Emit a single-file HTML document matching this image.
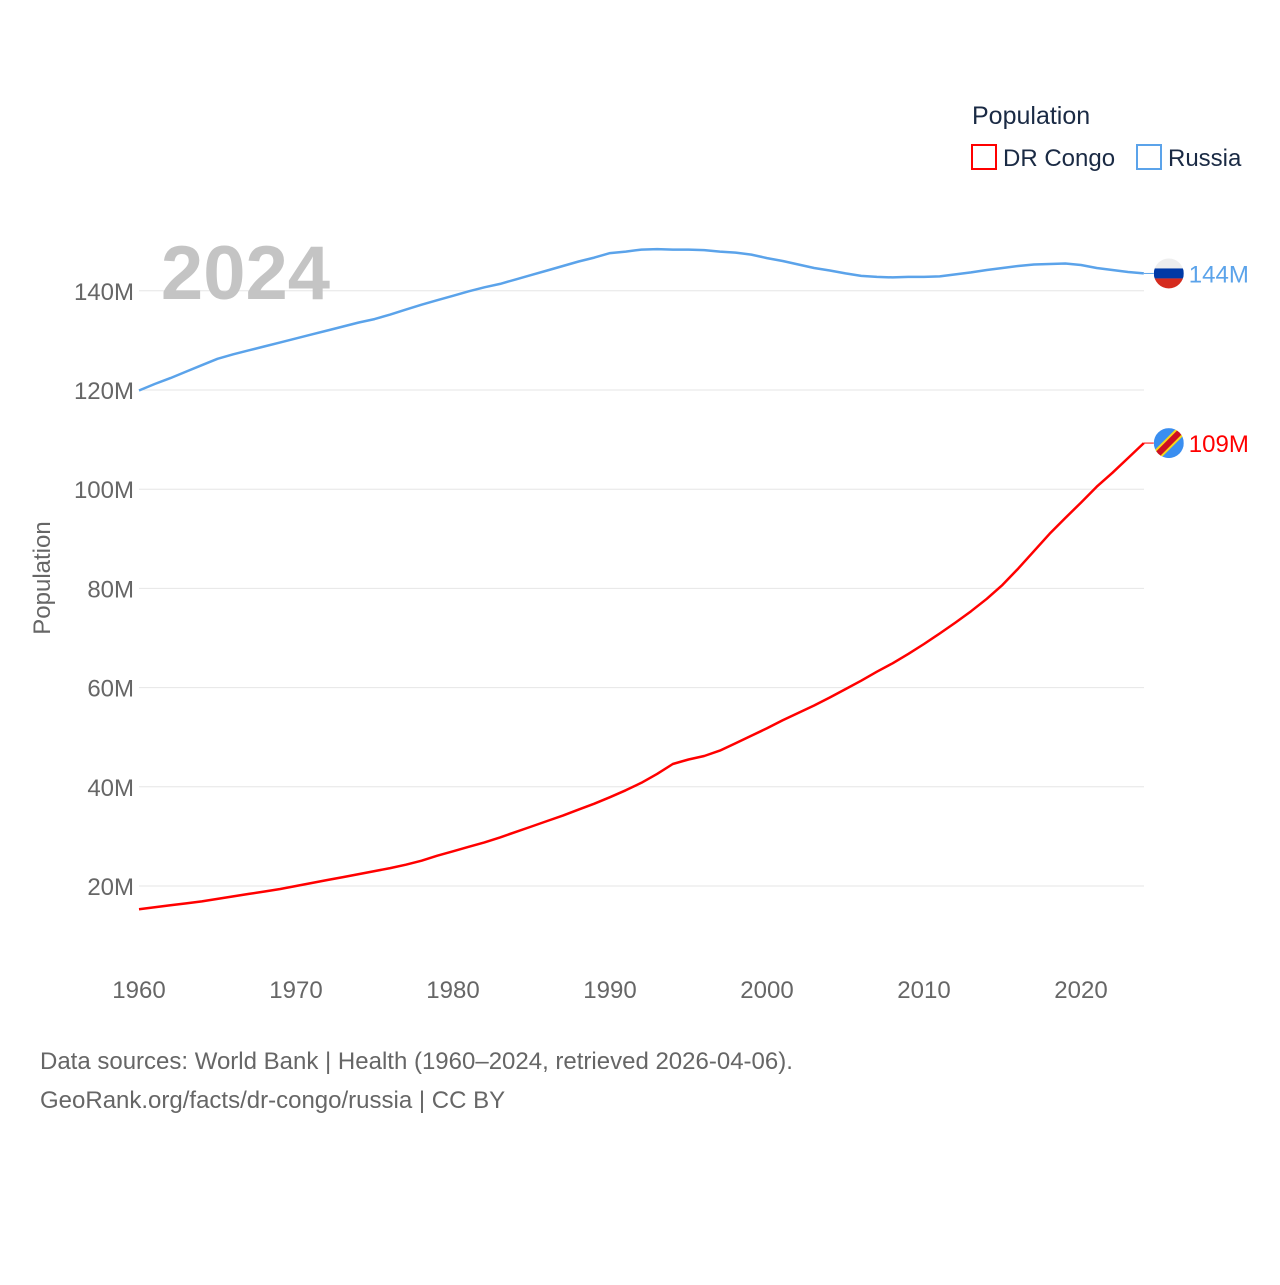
<!DOCTYPE html>
<html><head><meta charset="utf-8">
<style>
body{margin:0;background:#fff;font-family:"Liberation Sans",sans-serif;}
svg text{font-family:"Liberation Sans",sans-serif;}
</style></head>
<body>
<svg width="1280" height="1280" viewBox="0 0 1280 1280">
<g id="grid"></g>
<g id="yt"></g>
<g id="xt"></g>
<text x="330" y="299" text-anchor="end" font-size="76" font-weight="bold" fill="#c4c4c4">2024</text>
<text transform="translate(50,578) rotate(-90)" text-anchor="middle" font-size="24" fill="#666">Population</text>
<g id="lines"></g>
<g>
<text x="972" y="124" font-size="25" fill="#1a2a44">Population</text>
<g>
<rect x="972" y="145" width="24" height="24" fill="none" stroke="#ff0000" stroke-width="2"/>
<text x="1003" y="166" font-size="24" fill="#1a2a44">DR Congo</text></g>
<g>
<rect x="1137" y="145" width="24" height="24" fill="none" stroke="#5ba3ea" stroke-width="2"/>
<text x="1168" y="166" font-size="24" fill="#1a2a44">Russia</text></g>
</g>
<g id="ends"></g>
<text x="40" y="1069" font-size="24" fill="#666">Data sources: World Bank | Health (1960–2024, retrieved 2026-04-06).</text>
<text x="40" y="1108" font-size="24" fill="#666">GeoRank.org/facts/dr-congo/russia | CC BY</text>
</svg>
<script>
const years = [];
for (let y = 1960; y <= 2024; y++) years.push(y);
const russia = [119.9,121.2,122.4,123.7,125.0,126.3,127.2,128.0,128.8,129.6,
130.4,131.2,132.0,132.8,133.6,134.3,135.2,136.2,137.2,138.1,
139.0,139.9,140.7,141.4,142.3,143.2,144.1,145.0,145.9,146.7,
147.6,147.9,148.3,148.4,148.3,148.3,148.2,147.9,147.7,147.3,
146.6,146.0,145.3,144.6,144.1,143.5,143.0,142.8,142.7,142.8,
142.8,142.9,143.3,143.7,144.2,144.6,145.0,145.3,145.4,145.5,
145.2,144.6,144.2,143.8,143.5];
const congo = [15.3,15.7,16.1,16.5,16.9,17.4,17.9,18.4,18.9,19.4,
20.0,20.6,21.2,21.8,22.4,23.0,23.6,24.3,25.1,26.1,
27.0,27.9,28.8,29.8,30.9,32.0,33.1,34.2,35.4,36.6,
37.9,39.3,40.8,42.6,44.6,45.5,46.2,47.3,48.8,50.3,
51.8,53.4,54.9,56.4,58.0,59.7,61.4,63.2,64.9,66.8,
68.8,70.9,73.1,75.4,77.9,80.7,84.0,87.5,91.0,94.2,
97.3,100.5,103.3,106.3,109.3];
const yTicks = [20,40,60,80,100,120,140];
const xTicks = [1960,1970,1980,1990,2000,2010,2020];
const NS = "http://www.w3.org/2000/svg";
const X = y => 139 + (y - 1960) * (942 / 60);
const Y = v => 886 - (v - 20) * (99.2 / 20);
function mk(tag, attrs, parent) { const e = document.createElementNS(NS, tag); for (const k in attrs) e.setAttribute(k, attrs[k]); parent.appendChild(e); return e; }
const grid = document.getElementById('grid'), yt = document.getElementById('yt'), xt = document.getElementById('xt');
yTicks.forEach(v => {
  const l = mk('line', {x1: 139, x2: 1144, y1: Y(v), y2: Y(v), stroke: '#e6e6e6', 'stroke-width': 1}, grid);
  
  
  const t = mk('text', {x: 134, y: Y(v) + 9, 'text-anchor': 'end', 'font-size': 24, fill: '#666'}, yt);
  t.textContent = v + 'M';
  
  
});
xTicks.forEach(y => {
  const t = mk('text', {x: X(y), y: 998, 'text-anchor': 'middle', 'font-size': 24, fill: '#666'}, xt);
  t.textContent = y;
  
  
});
const lines = document.getElementById('lines');
function line(vals, color, name) {
  const d = vals.map((v, i) => (i ? 'L' : 'M') + X(years[i]).toFixed(1) + ',' + Y(v).toFixed(1)).join('');
  const p = mk('path', {d: d, fill: 'none', stroke: color, 'stroke-width': 2.5, 'stroke-linejoin': 'round'}, lines);
  
  
}
line(russia, '#5ba3ea', 'russia-line');
line(congo, '#ff0000', 'dr-congo-line');
const ends = document.getElementById('ends');
const lastR = russia[russia.length - 1], lastC = congo[congo.length - 1];
const xe = X(years[years.length - 1]);
const ry = Y(lastR);
mk('line', {x1: xe, x2: xe + 10, y1: ry, y2: ry, stroke: '#5ba3ea', 'stroke-width': 1}, ends);
const rf = mk('g', {}, ends);


const crp = mk('clipPath', {id: 'cr'}, rf);
mk('circle', {cx: xe + 25, cy: ry, r: 15}, crp);
mk('rect', {x: xe + 10, y: ry - 15, width: 30, height: 10, fill: '#eee', 'clip-path': 'url(#cr)'}, rf);
mk('rect', {x: xe + 10, y: ry - 5, width: 30, height: 10, fill: '#0039a6', 'clip-path': 'url(#cr)'}, rf);
mk('rect', {x: xe + 10, y: ry + 5, width: 30, height: 10, fill: '#d52b1e', 'clip-path': 'url(#cr)'}, rf);
const rt = mk('text', {x: xe + 45, y: ry + 9, 'font-size': 24, fill: '#5ba3ea'}, ends);
rt.textContent = Math.round(lastR) + 'M';


const cy = Y(lastC);
mk('line', {x1: xe, x2: xe + 10, y1: cy, y2: cy, stroke: '#ff0000', 'stroke-width': 1}, ends);
const cf = mk('g', {}, ends);


const cc = mk('clipPath', {id: 'cc'}, cf);
mk('circle', {cx: xe + 25, cy: cy, r: 15}, cc);
mk('rect', {x: xe + 10, y: cy - 15, width: 30, height: 30, fill: '#3a8ef0', 'clip-path': 'url(#cc)'}, cf);
mk('line', {x1: xe + 8, y1: cy + 17, x2: xe + 42, y2: cy - 17, stroke: '#f7d618', 'stroke-width': 10, 'clip-path': 'url(#cc)'}, cf);
mk('line', {x1: xe + 8, y1: cy + 17, x2: xe + 42, y2: cy - 17, stroke: '#ce1021', 'stroke-width': 6, 'clip-path': 'url(#cc)'}, cf);
const ct = mk('text', {x: xe + 45, y: cy + 9, 'font-size': 24, fill: '#ff0000'}, ends);
ct.textContent = Math.round(lastC) + 'M';


</script>
</body></html>
